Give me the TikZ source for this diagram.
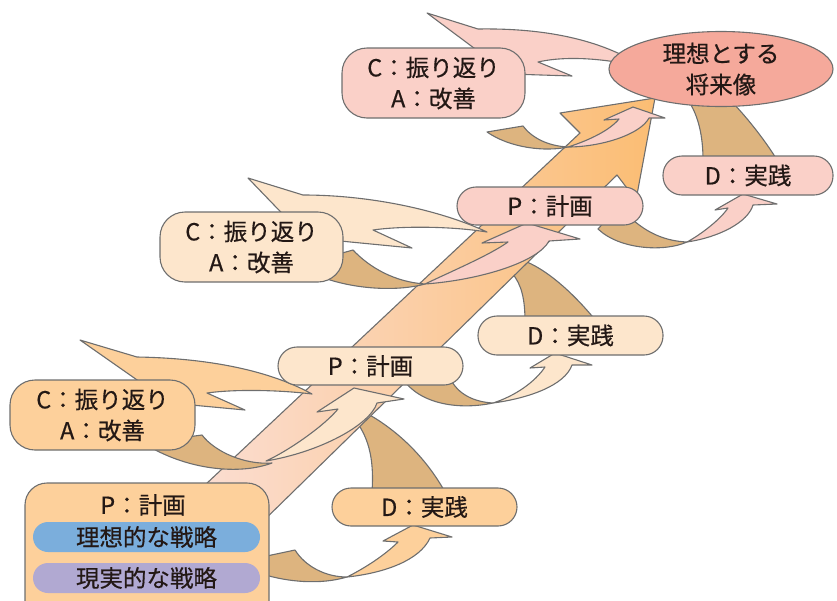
\documentclass[tikz,border=0pt]{standalone}
\usepackage{fontspec}
\newfontfamily\jp[FakeBold=0.5]{Noto Sans CJK JP}
\usetikzlibrary{shapes.geometric}
\definecolor{cOr}{RGB}{253,208,155}
\definecolor{cCr}{RGB}{253,230,204}
\definecolor{cPk}{RGB}{250,208,200}
\definecolor{cEl}{RGB}{245,169,155}
\definecolor{cTan}{RGB}{221,180,127}
\definecolor{cBl}{RGB}{123,174,220}
\definecolor{cPu}{RGB}{177,169,210}
\definecolor{cLn}{RGB}{110,110,110}
\definecolor{cTx}{RGB}{35,24,21}
\definecolor{bandA}{RGB}{251,222,212}
\definecolor{bandB}{RGB}{251,189,115}
\begin{document}
\begin{tikzpicture}[x=1pt,y=-1pt,line join=round,
  outl/.style={draw=cLn,line width=1.1pt},
  tanf/.style={outl,fill=cTan},
  txt/.style={font=\jp\fontsize{23.5}{31}\selectfont,text=cTx,align=center},
  box/.style={outl,rectangle,rounded corners=#1,inner sep=0pt,txt},
  pill/.style={rectangle,rounded corners=15pt,inner sep=0pt,txt,minimum width=227pt,minimum height=30pt}]
\useasboundingbox (0,0) rectangle (837,600);
% --- ribbons passing behind the big arrow
\path[tanf] (372,492) .. controls (374,462) and (370,440) .. (356,421) -- (318,398) -- (330,390) -- (368,414) .. controls (405,435) and (430,465) .. (445,492) -- cycle;
\path[tanf] (525,322) .. controls (525,300) and (522,285) .. (512,273) -- (485,236) -- (496,228) -- (527,262) .. controls (550,272) and (575,295) .. (597,322) -- cycle;
% --- big arrow
\path[outl,left color=bandA,right color=bandB] (189,500) -- (580,133) -- (560,113) -- (655,98) -- (636,200) -- (617,175) -- (254,530) -- cycle;
% --- back faces (tan)
\path[tanf] (262,557) -- (295,550) .. controls (305,566) and (325,577) .. (347,577) .. controls (320,585) and (288,582) .. (262,574) -- cycle;
\path[tanf] (180,438) -- (202,435) .. controls (215,452) and (245,465) .. (272,463) .. controls (240,475) and (190,470) .. (150,447) -- cycle;
\path[tanf] (402,378) -- (450,378) .. controls (458,395) and (475,402) .. (493,403) .. controls (460,410) and (420,405) .. (402,378) -- cycle;
\path[tanf] (335,255) -- (353,250) .. controls (370,268) and (395,282) .. (425,284) .. controls (400,291) and (360,290) .. (327,279) -- cycle;
\path[tanf] (598,229) -- (606,220) -- (633,220) .. controls (648,233) and (665,241) .. (687,242) .. controls (665,252) and (620,250) .. (598,229) -- cycle;
\path[tanf] (487,132) -- (523,126) .. controls (532,138) and (548,146) .. (568,147) .. controls (545,152) and (510,148) .. (487,132) -- cycle;
\path[tanf] (703,160) .. controls (703,135) and (698,115) .. (688,100) -- (730,100) .. controls (745,115) and (765,140) .. (777,160) -- cycle;
% --- front faces
\path[outl,fill=cOr] (347,577) .. controls (365,568) and (385,555) .. (398,542) -- (383,541) -- (413,525) -- (452,537) -- (430,538) .. controls (420,560) and (385,573) .. (347,577) -- cycle;
\path[outl,fill=cOr] (80,340) -- (137,357) .. controls (200,358) and (265,368) .. (312,394) .. controls (280,390) and (235,389) .. (207,393) -- (245,410) -- (170,403) -- cycle;
\path[outl,fill=cCr] (266,461) .. controls (290,450) and (325,425) .. (338,409) -- (317,412) -- (354,388) -- (404,399) -- (377,403) .. controls (370,425) and (320,452) .. (266,461) -- cycle;
\path[outl,fill=cCr] (493,403) .. controls (515,396) and (535,382) .. (545,367) -- (530,368) -- (555,353) -- (592,365) -- (572,365) .. controls (565,385) and (530,398) .. (493,403) -- cycle;
\path[outl,fill=cCr] (248,178) -- (303,195) .. controls (370,195) and (440,210) .. (487,232) .. controls (450,226) and (400,226) .. (373,230) -- (412,248) -- (330,240) -- (300,232) -- cycle;
\path[outl,fill=cPk] (425,284) .. controls (450,272) and (490,255) .. (508,242) -- (482,243) -- (527,223) -- (580,239) -- (549,241) .. controls (538,262) and (480,280) .. (425,284) -- cycle;
\path[outl,fill=cPk] (687,242) .. controls (700,235) and (720,220) .. (728,208) -- (715,210) -- (743,194) -- (777,204) -- (753,205) .. controls (748,222) and (720,237) .. (687,242) -- cycle;
\path[outl,fill=cPk] (568,147) .. controls (590,140) and (610,130) .. (619,119) -- (604,120) -- (633,107) -- (665,118) -- (649,118) .. controls (640,135) and (600,147) .. (568,147) -- cycle;
\path[outl,fill=cPk] (427,13) -- (478,29) .. controls (540,28) and (590,38) .. (628,58) -- (628,64) .. controls (590,57) and (560,57) .. (538,62) -- (572,76) -- (510,74) -- (490,60) -- cycle;
% --- boxes
\node[box=22pt,fill=cOr,minimum width=244pt,minimum height=140pt] (p1) at (147,553) {};
\node[txt] (p1t) at (143,505) {P：計画};
\node[pill,fill=cBl] (p1a) at (146.5,537) {理想的な戦略};
\node[pill,fill=cPu] (p1b) at (146.5,578) {現実的な戦略};
\node[box=19pt,fill=cOr,minimum width=185pt,minimum height=38pt] (d1) at (424.5,507) {D：実践};
\node[box=25pt,fill=cOr,minimum width=185pt,minimum height=70pt] (c1) at (102.5,415) {C：振り返り\\A：改善};
\node[box=19pt,fill=cCr,minimum width=185pt,minimum height=38pt] (p2) at (370.5,366) {P：計画};
\node[box=19pt,fill=cCr,minimum width=185pt,minimum height=39pt] (d2) at (570.5,335.5) {D：実践};
\node[box=25pt,fill=cCr,minimum width=183pt,minimum height=70pt] (c2) at (251.5,247) {C：振り返り\\A：改善};
\node[box=19pt,fill=cPk,minimum width=186pt,minimum height=38pt] (p3) at (550,206) {P：計画};
\node[box=19pt,fill=cPk,minimum width=170pt,minimum height=39pt] (d3) at (748,175.5) {D：実践};
\node[box=25pt,fill=cPk,minimum width=183pt,minimum height=70pt] (c3) at (433.5,83) {C：振り返り\\A：改善};
\node[outl,ellipse,fill=cEl,minimum width=224pt,minimum height=75pt,inner sep=0pt,txt] (goal) at (721,69) {理想とする\\将来像};
\end{tikzpicture}
\end{document}
